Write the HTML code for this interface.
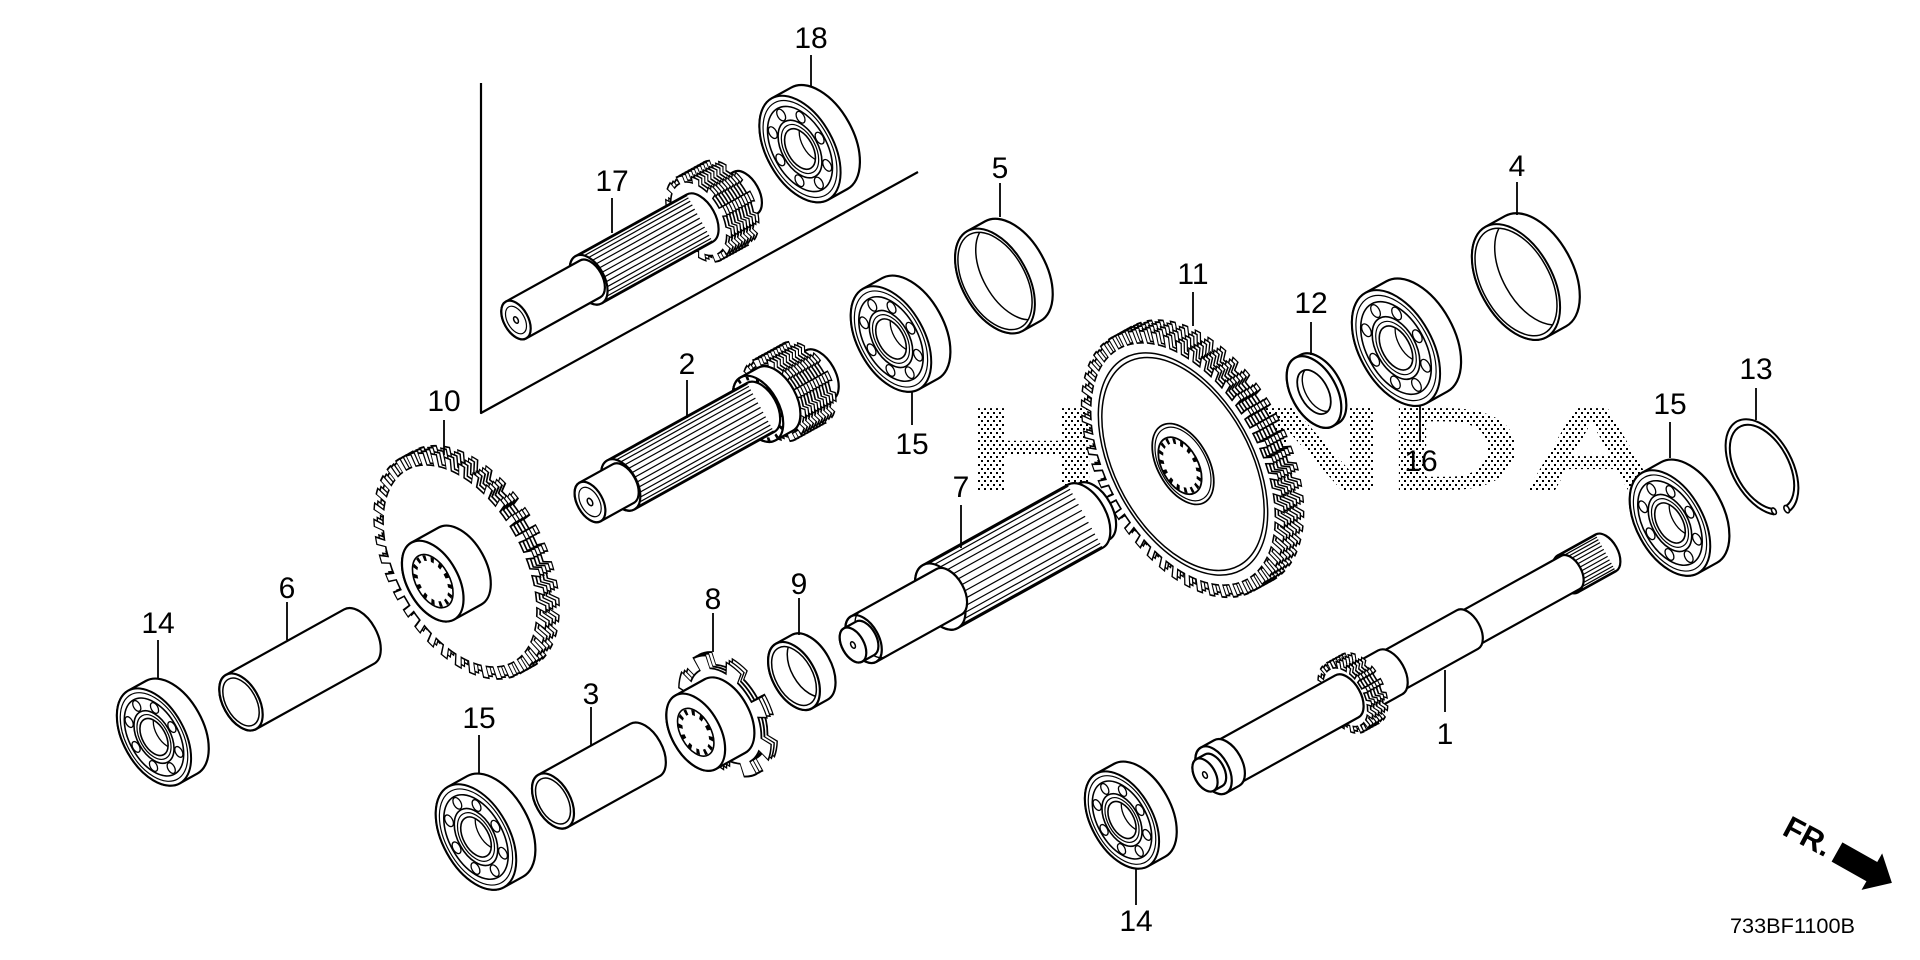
<!DOCTYPE html>
<html><head><meta charset="utf-8">
<style>
html,body{margin:0;padding:0;background:#fff;}
svg{display:block}
svg *{vector-effect:non-scaling-stroke;}
svg .t{vector-effect:none;}
</style></head><body>
<svg width="1920" height="960" viewBox="0 0 1920 960" xmlns="http://www.w3.org/2000/svg" stroke="#000" stroke-width="2.2" fill="#fff" stroke-linejoin="round">
<defs>
 <pattern id="dots" width="6" height="8" patternUnits="userSpaceOnUse"><rect width="2" height="2" fill="#000" stroke="none"/><rect x="3" y="4" width="2" height="2" fill="#000" stroke="none"/></pattern>
 <clipPath id="c38"><circle r="0.38"/></clipPath>
 <clipPath id="c93"><circle r="0.93"/></clipPath>
 <clipPath id="c9"><circle r="32"/></clipPath>
 <clipPath id="c12"><circle r="24"/></clipPath>
 <path id="spl" fill="none" stroke-width="1.2" d="M0 -0.96H1M0 -0.86H1M0 -0.72H1M0 -0.56H1M0 -0.38H1M0 -0.19H1M0 0H1M0 0.19H1M0 0.38H1M0 0.56H1M0 0.72H1M0 0.86H1M0 0.96H1"/>
 <g id="brg">
  <path d="M0 -1H0.66A1 1 0 0 1 0.66 1H0A1 1 0 0 1 0 -1Z" stroke-width="2.2"/>
  <circle r="1" stroke-width="2"/>
  <circle r="0.91" fill="none" stroke-width="1.2"/>
  <circle r="0.8" stroke-width="1.6"/>
  <g stroke-width="1.3">
   <circle cx="0.67" cy="0" r="0.11"/><circle cx="0.474" cy="0.474" r="0.11"/><circle cx="0" cy="0.67" r="0.11"/><circle cx="-0.474" cy="0.474" r="0.11"/>
   <circle cx="-0.67" cy="0" r="0.11"/><circle cx="-0.474" cy="-0.474" r="0.11"/><circle cx="0" cy="-0.67" r="0.11"/><circle cx="0.474" cy="-0.474" r="0.11"/>
  </g>
  <circle r="0.54" stroke-width="1.6"/>
  <circle r="0.46" fill="none" stroke-width="1.2"/>
  <circle r="0.38" stroke-width="1.6"/>
  <circle cx="0.5" r="0.38" fill="none" stroke-width="1.3" clip-path="url(#c38)"/>
 </g>
 <g id="ring">
  <path d="M0 -1H0.62A1 1 0 0 1 0.62 1H0A1 1 0 0 1 0 -1Z" stroke-width="2.2"/>
  <circle r="1" stroke-width="2"/>
  <circle r="0.93" stroke-width="1.5"/>
  <circle cx="0.62" r="0.93" fill="none" stroke-width="1.5" clip-path="url(#c93)"/>
 </g>
 <!-- gear faces -->
 <g id="g10f"><circle r="110" stroke-width="1.6"/><circle class="t" r="117" fill="none" stroke-width="14" pathLength="380" stroke-dasharray="5 5"/><circle class="t" r="114.75" fill="none" stroke="#fff" stroke-width="14.5" pathLength="380" stroke-dasharray="3.2 6.8" stroke-dashoffset="-0.9"/></g>
 <g id="g11f"><circle r="132" stroke-width="1.6"/><circle class="t" r="139" fill="none" stroke-width="14" pathLength="500" stroke-dasharray="5 5"/><circle class="t" r="136.75" fill="none" stroke="#fff" stroke-width="14.5" pathLength="500" stroke-dasharray="2.95 7.05" stroke-dashoffset="-1.025"/></g>
 <g id="p17f"><circle r="40" stroke-width="1.6"/><circle class="t" r="44" fill="none" stroke-width="8" pathLength="120" stroke-dasharray="5 5"/><circle class="t" r="41.75" fill="none" stroke="#fff" stroke-width="8.5" pathLength="120" stroke-dasharray="3.6 6.4" stroke-dashoffset="-0.7"/></g>
 <g id="p2f"><circle r="38" stroke-width="1.6"/><circle class="t" r="42" fill="none" stroke-width="8" pathLength="120" stroke-dasharray="5 5"/><circle class="t" r="39.75" fill="none" stroke="#fff" stroke-width="8.5" pathLength="120" stroke-dasharray="3.55 6.45" stroke-dashoffset="-0.725"/></g>
 <g id="p1f"><circle r="32" stroke-width="1.6"/><circle class="t" r="36" fill="none" stroke-width="8" pathLength="160" stroke-dasharray="5 5"/><circle class="t" r="33.75" fill="none" stroke="#fff" stroke-width="8.5" pathLength="160" stroke-dasharray="2.6 7.4" stroke-dashoffset="-1.2"/></g>
 <g id="s8f"><circle r="52" stroke-width="1.8"/><circle class="t" r="59.5" fill="none" stroke-width="15" pathLength="80" stroke-dasharray="4.5 5.5"/><circle class="t" r="57.25" fill="none" stroke="#fff" stroke-width="15.5" pathLength="80" stroke-dasharray="3.78 6.22" stroke-dashoffset="-0.36"/></g>
 <!-- extruded gears -->
 <g id="g11x">
  <use href="#g11f" transform="translate(38 0)"/><use href="#g11f" transform="translate(31.5 0)"/><use href="#g11f" transform="translate(25 0)"/>
  <use href="#g11f" transform="translate(18.5 0)"/><use href="#g11f" transform="translate(12 0)"/><use href="#g11f" transform="translate(6 0)"/><use href="#g11f"/>
 </g>
 <g id="g10x">
  <use href="#g10f" transform="translate(26 0)"/><use href="#g10f" transform="translate(19.5 0)"/><use href="#g10f" transform="translate(13 0)"/>
  <use href="#g10f" transform="translate(6.5 0)"/><use href="#g10f"/>
 </g>
</defs>

<!-- HONDA watermark -->
<text x="965" y="490" font-family="'Liberation Sans', Arial, sans-serif" font-weight="bold" font-size="119" textLength="695" lengthAdjust="spacingAndGlyphs" fill="url(#dots)" stroke="none">HONDA</text>

<!-- frame line -->
<polyline points="481,83 481,413 918,172" fill="none" stroke-width="2.2"/>

<!-- Bearing 18 -->
<use href="#brg" transform="translate(800 149) rotate(-29) scale(33.47 58)"/>

<!-- Shaft 17 -->
<g transform="translate(516 320) rotate(-29) scale(0.577 1)">
 <path d="M416 -24H454A24 24 0 0 1 454 24H416A24 24 0 0 1 416 -24Z"/>
 <use href="#p17f" transform="translate(416 0)"/><use href="#p17f" transform="translate(410 0)"/><use href="#p17f" transform="translate(404 0)"/>
 <use href="#p17f" transform="translate(398 0)"/><use href="#p17f" transform="translate(392 0)"/><use href="#p17f" transform="translate(386 0)"/>
 <use href="#p17f" transform="translate(380 0)"/><use href="#p17f" transform="translate(374 0)"/><use href="#p17f" transform="translate(368 0)"/>
 <use href="#p17f" transform="translate(362 0)"/>
 <path d="M144 -27H364A27 27 0 0 1 364 27H144A27 27 0 0 1 144 -27Z"/>
 <use href="#spl" transform="translate(144 0) scale(220 27)"/>
 <circle cx="144" r="27"/>
 <path d="M0 -21H147A21 21 0 0 1 147 21H0A21 21 0 0 1 0 -21Z"/>
 <circle r="21"/>
 <circle r="15" fill="none" stroke-width="1.2"/>
 <circle r="3.5" stroke-width="1.5"/>
</g>

<!-- Ring 5 -->
<use href="#ring" transform="translate(995 281) rotate(-29) scale(32.89 57)"/>

<!-- Bearing 15 upper -->
<use href="#brg" transform="translate(891 339) rotate(-29) scale(33.18 57.5)"/>

<!-- Shaft 2 -->
<g transform="translate(590 502) rotate(-29) scale(0.577 1)">
 <path d="M425 -28H454A28 28 0 0 1 454 28H425A28 28 0 0 1 425 -28Z"/>
 <use href="#p2f" transform="translate(425 0)"/><use href="#p2f" transform="translate(419 0)"/><use href="#p2f" transform="translate(413 0)"/>
 <use href="#p2f" transform="translate(407 0)"/><use href="#p2f" transform="translate(401 0)"/><use href="#p2f" transform="translate(395 0)"/>
 <use href="#p2f" transform="translate(389 0)"/><use href="#p2f" transform="translate(383 0)"/><use href="#p2f" transform="translate(377 0)"/>
 <use href="#p2f" transform="translate(371 0)"/><use href="#p2f" transform="translate(365 0)"/>
 <path d="M333 -36H367A36 36 0 0 1 367 36H333A36 36 0 0 1 333 -36Z"/>
 <circle cx="333" r="36"/>
 <circle class="t" cx="333" r="33" fill="none" stroke-width="4" pathLength="140" stroke-dasharray="3 7"/>
 <path d="M61 -28H338A28 28 0 0 1 338 28H61A28 28 0 0 1 61 -28Z"/>
 <use href="#spl" transform="translate(61 0) scale(277 28)"/>
 <circle cx="61" r="28"/>
 <path d="M0 -22H66A22 22 0 0 1 66 22H0A22 22 0 0 1 0 -22Z"/>
 <circle r="22"/>
 <circle r="16" fill="none" stroke-width="1.2"/>
 <circle r="4" stroke-width="1.5"/>
</g>

<!-- Gear 10 -->
<g transform="translate(460 566) rotate(-29) scale(0.577 1)">
 <use href="#g10x"/>
 <path d="M-54 -44H0A44 44 0 0 1 0 44H-54A44 44 0 0 1 -54 -44Z"/>
 <circle cx="-54" r="44"/>
 <circle cx="-54" r="29" stroke-width="1.6"/>
 <circle class="t" cx="-54" r="25" fill="none" stroke-width="6" pathLength="140" stroke-dasharray="4 6"/>
</g>

<!-- Bearing 16 -->
<use href="#brg" transform="translate(1396 348) rotate(-29) scale(36.35 63)"/>

<!-- Washer 12 -->
<g transform="translate(1314 392) rotate(-29) scale(0.577 1)">
 <path d="M0 -39H10A39 39 0 0 1 10 39H0A39 39 0 0 1 0 -39Z"/>
 <circle r="39"/>
 <circle r="24" stroke-width="1.8"/>
 <circle cx="10" r="24" fill="none" stroke-width="1.4" clip-path="url(#c12)"/>
</g>

<!-- Ring 4 -->
<use href="#ring" transform="translate(1516 282) rotate(-29) scale(36.35 63)"/>

<!-- Gear 11 -->
<g transform="translate(1183 464) rotate(-29) scale(0.577 1)">
 <use href="#g11x"/>
 <circle r="121" fill="none" stroke-width="1.5"/>
 <circle r="116" fill="none" stroke-width="1.5"/>
 <circle r="44" stroke-width="1.8"/>
 <circle r="40" fill="none" stroke-width="1.2"/>
 <circle cx="-6" r="31" stroke-width="1.8"/>
 <circle class="t" cx="-6" r="27" fill="none" stroke-width="6" pathLength="160" stroke-dasharray="4 6"/>
</g>

<!-- Bearing 15 right -->
<use href="#brg" transform="translate(1670 523) rotate(-29) scale(33.18 57.5)"/>

<!-- Circlip 13 -->
<g transform="translate(1762 467) rotate(-29) scale(0.577 1)">
 <path d="M-21.98 47.13A52 52 0 1 1 4.53 51.8L4.01 45.83A46 46 0 1 0 -19.44 41.69Z" stroke-width="2"/>
 <circle cx="2" cy="48.8" r="4" stroke-width="1.6"/>
 <circle cx="-19" cy="44.4" r="3.5" stroke-width="1.6"/>
</g>

<!-- Shaft 7 -->
<g transform="translate(853 645) rotate(-29) scale(0.577 1)">
 <path d="M455 -32H477A32 32 0 0 1 477 32H455A32 32 0 0 1 455 -32Z"/>
 <path d="M173 -36H460A36 36 0 0 1 460 36H173A36 36 0 0 1 173 -36Z"/>
 <use href="#spl" transform="translate(173 0) scale(287 36)"/>
 <circle cx="173" r="36"/>
 <path d="M21 -26H190A26 26 0 0 1 190 26H21A26 26 0 0 1 21 -26Z"/>
 <circle cx="21" r="26"/>
 <path d="M40 -26A26 26 0 0 0 40 26" fill="none" stroke-width="1.4"/>
 <path d="M0 -19H24A19 19 0 0 1 24 19H0A19 19 0 0 1 0 -19Z"/>
 <circle r="19"/>
 <circle r="3.5" stroke-width="1.5"/>
</g>

<!-- Sleeve 6 -->
<g transform="translate(241 702) rotate(-29) scale(0.577 1)">
 <path d="M0 -31H234A31 31 0 0 1 234 31H0A31 31 0 0 1 0 -31Z"/>
 <circle r="31"/>
 <circle r="26" stroke-width="1.5"/>
</g>

<!-- Bearing 14 left -->
<use href="#brg" transform="translate(154 737) rotate(-29) scale(30.58 53)"/>

<!-- Sprocket 8 -->
<g transform="translate(725 716) rotate(-29) scale(0.577 1)">
 <use href="#s8f" transform="translate(12 0)"/>
 <use href="#s8f" transform="translate(6 0)"/>
 <use href="#s8f"/>
 <path d="M-58 -42H0A42 42 0 0 1 0 42H-58A42 42 0 0 1 -58 -42Z"/>
 <circle cx="-58" r="42"/>
 <circle cx="-58" r="26" stroke-width="1.6"/>
 <circle class="t" cx="-58" r="22" fill="none" stroke-width="6" pathLength="120" stroke-dasharray="4 6"/>
</g>

<!-- Collar 9 -->
<g transform="translate(794 676) rotate(-29) scale(0.577 1)">
 <path d="M0 -37H31A37 37 0 0 1 31 37H0A37 37 0 0 1 0 -37Z"/>
 <circle r="37"/>
 <circle r="32" stroke-width="1.5"/>
 <circle cx="31" r="32" fill="none" stroke-width="1.5" clip-path="url(#c9)"/>
</g>

<!-- Sleeve 3 -->
<g transform="translate(553 801) rotate(-29) scale(0.577 1)">
 <path d="M0 -30H182A30 30 0 0 1 182 30H0A30 30 0 0 1 0 -30Z"/>
 <circle r="30"/>
 <circle r="25" stroke-width="1.5"/>
</g>

<!-- Bearing 15 lower left -->
<use href="#brg" transform="translate(476 837) rotate(-29) scale(33.18 57.5)"/>

<!-- Shaft 1 -->
<g transform="translate(1205 775) rotate(-29) scale(0.577 1)">
 <path d="M719 -21H794A21 21 0 0 1 794 21H719A21 21 0 0 1 719 -21Z"/>
 <use href="#spl" transform="translate(719 0) scale(75 21)"/>
 <circle cx="719" r="21"/>
 <path d="M520 -19H724A19 19 0 0 1 724 19H520A19 19 0 0 1 520 -19Z"/>
 <path d="M364 -22H520A22 22 0 0 1 520 22H364A22 22 0 0 1 364 -22Z"/>
 <circle cx="364" r="22"/>
 <path d="M308 -25H367A25 25 0 0 1 367 25H308A25 25 0 0 1 308 -25Z"/>
 <circle cx="308" r="25"/>
 <use href="#p1f" transform="translate(308 0)"/><use href="#p1f" transform="translate(302 0)"/>
 <use href="#p1f" transform="translate(296 0)"/><use href="#p1f" transform="translate(290 0)"/>
 <use href="#p1f" transform="translate(284 0)"/><use href="#p1f" transform="translate(278 0)"/>
 <path d="M43 -24H281A24 24 0 0 1 281 24H43A24 24 0 0 1 43 -24Z"/>
 <circle cx="43" r="24"/>
 <path d="M17 -26H43A26 26 0 0 1 43 26H17A26 26 0 0 1 17 -26Z"/>
 <circle cx="17" r="26"/>
 <path d="M0 -18H17A18 18 0 0 1 17 18H0A18 18 0 0 1 0 -18Z"/>
 <circle r="18"/>
 <circle r="3.5" stroke-width="1.5"/>
</g>

<!-- Bearing 14 bottom -->
<use href="#brg" transform="translate(1122 820) rotate(-29) scale(30.58 53)"/>

<!-- Leaders -->
<g stroke-width="1.8" fill="none">
 <line x1="811" y1="55" x2="811" y2="86"/>
 <line x1="612" y1="198" x2="612" y2="233"/>
 <line x1="1000" y1="183" x2="1000" y2="217"/>
 <line x1="1517" y1="182" x2="1517" y2="215"/>
 <line x1="1193" y1="292" x2="1193" y2="326"/>
 <line x1="1311" y1="322" x2="1311" y2="355"/>
 <line x1="687" y1="380" x2="687" y2="418"/>
 <line x1="444" y1="420" x2="444" y2="455"/>
 <line x1="912" y1="392" x2="912" y2="425"/>
 <line x1="1420" y1="405" x2="1420" y2="442"/>
 <line x1="1670" y1="422" x2="1670" y2="458"/>
 <line x1="1756" y1="388" x2="1756" y2="420"/>
 <line x1="961" y1="505" x2="961" y2="548"/>
 <line x1="287" y1="602" x2="287" y2="640"/>
 <line x1="158" y1="640" x2="158" y2="678"/>
 <line x1="713" y1="613" x2="713" y2="652"/>
 <line x1="799" y1="598" x2="799" y2="635"/>
 <line x1="591" y1="707" x2="591" y2="745"/>
 <line x1="479" y1="735" x2="479" y2="773"/>
 <line x1="1445" y1="670" x2="1445" y2="712"/>
 <line x1="1136" y1="868" x2="1136" y2="905"/>
</g>

<!-- Labels -->
<g font-family="'Liberation Sans', Arial, sans-serif" font-size="30" text-anchor="middle" fill="#000" stroke="none">
 <text x="811" y="48">18</text>
 <text x="612" y="191">17</text>
 <text x="1000" y="178">5</text>
 <text x="1517" y="176">4</text>
 <text x="1193" y="284">11</text>
 <text x="1311" y="313">12</text>
 <text x="687" y="374">2</text>
 <text x="444" y="411">10</text>
 <text x="912" y="454">15</text>
 <text x="1421" y="471">16</text>
 <text x="1670" y="414">15</text>
 <text x="1756" y="379">13</text>
 <text x="961" y="497">7</text>
 <text x="287" y="598">6</text>
 <text x="158" y="633">14</text>
 <text x="713" y="609">8</text>
 <text x="799" y="594">9</text>
 <text x="591" y="704">3</text>
 <text x="479" y="728">15</text>
 <text x="1445" y="744">1</text>
 <text x="1136" y="931">14</text>
</g>

<!-- FR arrow -->
<text transform="translate(1781 834) rotate(28)" font-family="'Liberation Sans', Arial, sans-serif" font-weight="bold" font-size="31" fill="#000" stroke="none">FR.</text>
<polygon transform="translate(1837 852) rotate(29.4)" points="0,-11 40,-11 40,-21 63,0 40,21 40,11 0,11" fill="#000" stroke="none"/>

<text x="1730" y="933" font-family="'Liberation Sans', Arial, sans-serif" font-size="21" textLength="125" lengthAdjust="spacingAndGlyphs" fill="#000" stroke="none">733BF1100B</text>
</svg>
</body></html>
